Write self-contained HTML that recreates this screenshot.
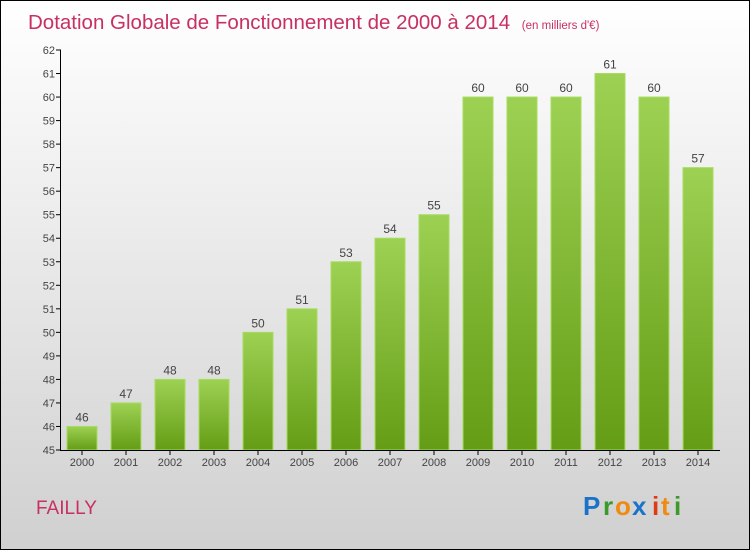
<!DOCTYPE html>
<html><head><meta charset="utf-8"><style>
body{margin:0;width:750px;height:550px;overflow:hidden}
#frame{position:absolute;left:0;top:0;width:748px;height:548px;border:1px solid #000;background:linear-gradient(#ffffff,#d0d0d0)}
text{font-family:"Liberation Sans",sans-serif}
</style></head><body>
<div id="frame"></div>
<svg id="chart" width="750" height="550" style="position:absolute;left:0;top:0">
<defs><linearGradient id="g" x1="0" y1="0" x2="0" y2="1"><stop offset="0" stop-color="#9dd153"/><stop offset="1" stop-color="#649d15"/></linearGradient></defs>
<text x="28" y="29" font-size="20.5" fill="#c8305f">Dotation Globale de Fonctionnement de 2000 à 2014 <tspan font-size="11.5" dx="6">(en milliers d'€)</tspan></text>
<text x="36" y="514" font-size="19" fill="#c8305f">FAILLY</text>
<g font-size="26" font-weight="bold"><text x="583" y="515" fill="#1a73c9">P</text><text x="603" y="515" fill="#3a9a2a">r</text><text x="615" y="515" fill="#f08a10">o</text><text x="632" y="515" fill="#1a73c9">x</text><text x="652" y="515" fill="#e03a10">i</text><text x="661" y="515" fill="#f08a10">t</text><text x="674" y="515" fill="#3a9a2a">i</text></g>
<g id="plot"></g>
</svg>
<script>
const years=["2000","2001","2002","2003","2004","2005","2006","2007","2008","2009","2010","2011","2012","2013","2014"];
const values=[46,47,48,48,50,51,53,54,55,60,60,60,61,60,57];
const yTicks=[45,46,47,48,49,50,51,52,53,54,55,56,57,58,59,60,61,62];
const NS="http://www.w3.org/2000/svg";
const y=v=>450-(v-45)*400/17;
const x=i=>82+i*44;
const g=document.getElementById('plot');
function el(t,a,p){const e=document.createElementNS(NS,t);for(const k in a)e.setAttribute(k,a[k]);(p||g).appendChild(e);return e;}
yTicks.forEach(t=>{
 const l=el('line',{x1:56,x2:61,y1:y(t),y2:y(t),stroke:'#000'});
 
 
 const tx=el('text',{x:55,y:y(t)+4,'text-anchor':'end','font-size':11,fill:'#444'});
 tx.textContent=t;
 
 
});
values.forEach((v,i)=>{
 const r=el('rect',{x:x(i)-15,y:y(v),width:30,height:450-y(v),fill:'url(#g)',stroke:'#a8dc60','stroke-width':1});
 
 
 const t=el('text',{x:x(i),y:y(v)-5,'text-anchor':'middle','font-size':12,fill:'#444'});
 t.textContent=v;
 
 
 const k=el('line',{x1:x(i),x2:x(i),y1:450,y2:455,stroke:'#000'});
 
 
 const yl=el('text',{x:x(i),y:466,'text-anchor':'middle','font-size':11,fill:'#444'});
 yl.textContent=years[i];
 
 
});
const ya=el('line',{x1:60.5,x2:60.5,y1:y(62),y2:450,stroke:'#000'});


const xa=el('line',{x1:60,x2:720,y1:450.5,y2:450.5,stroke:'#000'});


</script>
</body></html>
